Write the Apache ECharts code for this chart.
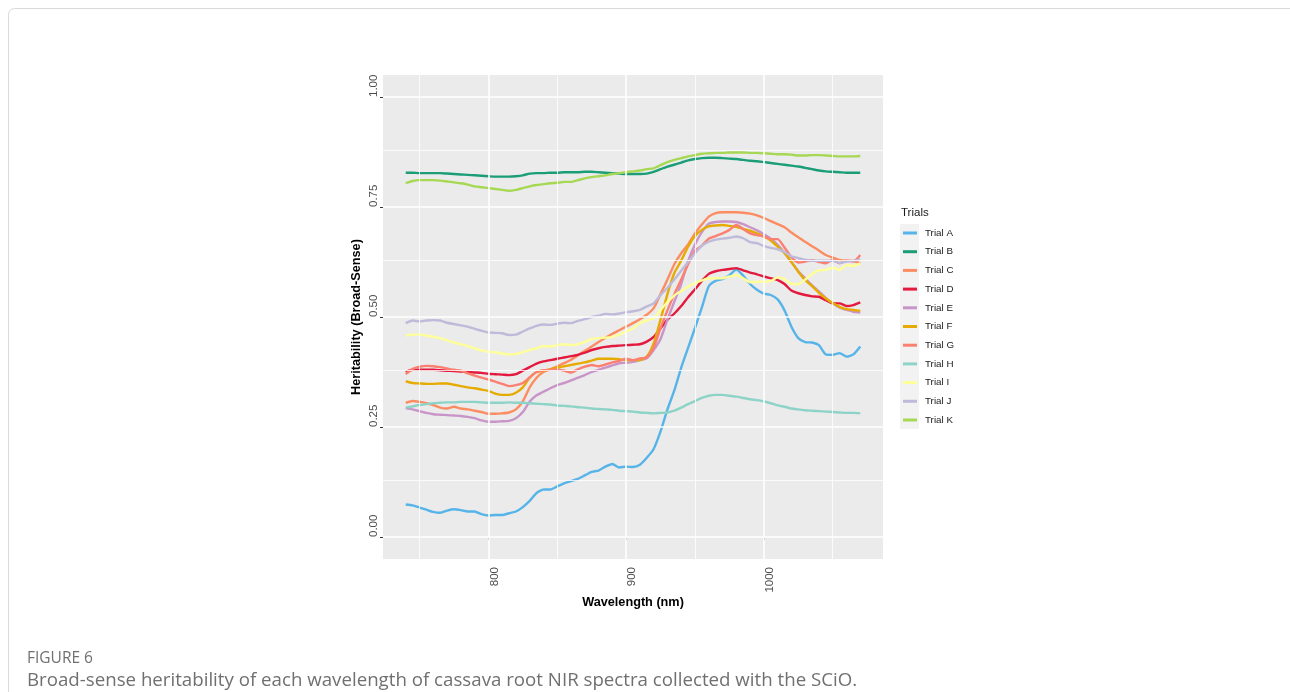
<!DOCTYPE html>
<html>
<head>
<meta charset="utf-8">
<script src="https://cdn.jsdelivr.net/npm/echarts@6/dist/echarts.min.js"></script>
<style>
  html, body { margin: 0; padding: 0; background: #ffffff; }
  #chart { width: 1290px; height: 692px; }
</style>
</head>
<body>
<div id="chart"></div>
<script>
// Wavelength grid (nm) shared by all trials
const wavelengths = [740, 745, 750, 755, 760, 765, 770, 775, 780, 785, 790, 795, 800, 805, 810, 815, 820, 825, 830, 835, 840, 845, 850, 855, 860, 865, 870, 875, 880, 885, 890, 895, 900, 905, 910, 915, 920, 925, 930, 935, 940, 945, 950, 955, 960, 965, 970, 975, 980, 985, 990, 995, 1000, 1005, 1010, 1015, 1020, 1025, 1030, 1035, 1040, 1045, 1050, 1055, 1060, 1065, 1070];

// Broad-sense heritability per wavelength, one array per trial
const trialA = [0.074, 0.072, 0.067, 0.062, 0.057, 0.055, 0.060, 0.063, 0.061, 0.058, 0.058, 0.052, 0.049, 0.050, 0.050, 0.054, 0.058, 0.068, 0.082, 0.100, 0.108, 0.108, 0.115, 0.122, 0.127, 0.132, 0.140, 0.148, 0.151, 0.160, 0.166, 0.158, 0.160, 0.159, 0.164, 0.180, 0.200, 0.240, 0.290, 0.333, 0.385, 0.430, 0.475, 0.522, 0.570, 0.582, 0.586, 0.595, 0.608, 0.594, 0.575, 0.562, 0.553, 0.550, 0.540, 0.515, 0.478, 0.452, 0.443, 0.442, 0.436, 0.415, 0.414, 0.418, 0.410, 0.415, 0.433];
const trialB = [0.828, 0.828, 0.827, 0.827, 0.827, 0.827, 0.826, 0.825, 0.824, 0.823, 0.822, 0.821, 0.820, 0.819, 0.819, 0.819, 0.820, 0.822, 0.826, 0.827, 0.827, 0.828, 0.828, 0.829, 0.829, 0.829, 0.830, 0.830, 0.829, 0.828, 0.827, 0.826, 0.825, 0.825, 0.825, 0.826, 0.830, 0.836, 0.842, 0.846, 0.851, 0.856, 0.859, 0.861, 0.862, 0.862, 0.861, 0.860, 0.859, 0.857, 0.855, 0.854, 0.852, 0.850, 0.848, 0.846, 0.844, 0.842, 0.839, 0.836, 0.833, 0.831, 0.830, 0.829, 0.828, 0.828, 0.828];
const trialC = [0.305, 0.309, 0.307, 0.304, 0.300, 0.294, 0.292, 0.296, 0.292, 0.290, 0.287, 0.284, 0.280, 0.280, 0.281, 0.283, 0.290, 0.308, 0.340, 0.362, 0.375, 0.381, 0.388, 0.395, 0.403, 0.413, 0.423, 0.433, 0.443, 0.453, 0.462, 0.470, 0.478, 0.486, 0.495, 0.505, 0.520, 0.552, 0.585, 0.620, 0.645, 0.665, 0.690, 0.710, 0.728, 0.736, 0.738, 0.738, 0.738, 0.737, 0.735, 0.731, 0.725, 0.718, 0.711, 0.704, 0.692, 0.681, 0.671, 0.661, 0.651, 0.641, 0.635, 0.630, 0.628, 0.627, 0.622];
const trialD = [0.375, 0.380, 0.380, 0.380, 0.380, 0.379, 0.378, 0.377, 0.376, 0.375, 0.374, 0.373, 0.371, 0.370, 0.369, 0.368, 0.370, 0.378, 0.386, 0.394, 0.399, 0.402, 0.405, 0.408, 0.411, 0.414, 0.419, 0.425, 0.429, 0.432, 0.434, 0.435, 0.436, 0.437, 0.438, 0.444, 0.455, 0.474, 0.494, 0.508, 0.525, 0.545, 0.563, 0.582, 0.598, 0.604, 0.607, 0.609, 0.611, 0.606, 0.601, 0.597, 0.592, 0.588, 0.584, 0.575, 0.560, 0.554, 0.550, 0.547, 0.546, 0.538, 0.531, 0.531, 0.525, 0.527, 0.533];
const trialE = [0.293, 0.290, 0.286, 0.282, 0.279, 0.278, 0.277, 0.276, 0.275, 0.273, 0.270, 0.265, 0.262, 0.262, 0.263, 0.264, 0.270, 0.284, 0.308, 0.322, 0.330, 0.338, 0.345, 0.350, 0.356, 0.362, 0.368, 0.375, 0.380, 0.385, 0.390, 0.395, 0.396, 0.398, 0.402, 0.406, 0.425, 0.450, 0.494, 0.535, 0.575, 0.627, 0.665, 0.693, 0.712, 0.716, 0.717, 0.717, 0.716, 0.711, 0.704, 0.697, 0.688, 0.678, 0.664, 0.646, 0.625, 0.604, 0.588, 0.572, 0.558, 0.543, 0.531, 0.521, 0.516, 0.512, 0.510];
const trialF = [0.354, 0.350, 0.349, 0.348, 0.348, 0.349, 0.349, 0.346, 0.343, 0.340, 0.338, 0.335, 0.332, 0.326, 0.323, 0.323, 0.328, 0.340, 0.362, 0.375, 0.378, 0.381, 0.385, 0.388, 0.391, 0.394, 0.397, 0.401, 0.405, 0.405, 0.405, 0.404, 0.402, 0.402, 0.402, 0.410, 0.440, 0.494, 0.552, 0.600, 0.628, 0.660, 0.684, 0.698, 0.706, 0.708, 0.709, 0.707, 0.705, 0.700, 0.696, 0.690, 0.683, 0.674, 0.660, 0.645, 0.625, 0.603, 0.584, 0.570, 0.555, 0.542, 0.532, 0.523, 0.518, 0.516, 0.514];
const trialG = [0.370, 0.382, 0.387, 0.389, 0.388, 0.386, 0.383, 0.380, 0.378, 0.372, 0.367, 0.362, 0.358, 0.353, 0.348, 0.343, 0.345, 0.350, 0.363, 0.375, 0.379, 0.380, 0.381, 0.378, 0.374, 0.381, 0.387, 0.391, 0.388, 0.392, 0.397, 0.400, 0.405, 0.402, 0.406, 0.408, 0.430, 0.475, 0.515, 0.552, 0.585, 0.620, 0.650, 0.662, 0.678, 0.684, 0.690, 0.698, 0.709, 0.700, 0.690, 0.686, 0.683, 0.677, 0.677, 0.658, 0.636, 0.624, 0.626, 0.629, 0.625, 0.622, 0.630, 0.622, 0.628, 0.626, 0.641];
const trialH = [0.294, 0.297, 0.300, 0.302, 0.304, 0.305, 0.306, 0.306, 0.307, 0.307, 0.307, 0.306, 0.305, 0.305, 0.305, 0.306, 0.305, 0.305, 0.304, 0.303, 0.302, 0.301, 0.299, 0.298, 0.297, 0.295, 0.294, 0.292, 0.291, 0.290, 0.289, 0.287, 0.286, 0.285, 0.283, 0.282, 0.281, 0.282, 0.283, 0.287, 0.294, 0.302, 0.309, 0.316, 0.321, 0.323, 0.323, 0.321, 0.319, 0.316, 0.313, 0.311, 0.308, 0.304, 0.299, 0.296, 0.292, 0.290, 0.288, 0.287, 0.286, 0.285, 0.284, 0.283, 0.282, 0.282, 0.281];
const trialI = [0.458, 0.460, 0.460, 0.458, 0.455, 0.452, 0.447, 0.442, 0.438, 0.434, 0.429, 0.424, 0.421, 0.420, 0.417, 0.415, 0.416, 0.420, 0.425, 0.429, 0.434, 0.433, 0.436, 0.438, 0.436, 0.438, 0.443, 0.450, 0.452, 0.453, 0.455, 0.460, 0.467, 0.474, 0.486, 0.492, 0.497, 0.516, 0.534, 0.549, 0.559, 0.569, 0.577, 0.583, 0.588, 0.588, 0.588, 0.592, 0.595, 0.588, 0.579, 0.580, 0.580, 0.582, 0.590, 0.586, 0.575, 0.575, 0.585, 0.598, 0.606, 0.607, 0.612, 0.607, 0.618, 0.616, 0.622];
const trialJ = [0.486, 0.492, 0.490, 0.492, 0.493, 0.492, 0.487, 0.484, 0.481, 0.478, 0.473, 0.469, 0.465, 0.464, 0.463, 0.459, 0.460, 0.467, 0.474, 0.480, 0.483, 0.482, 0.485, 0.487, 0.486, 0.491, 0.495, 0.500, 0.503, 0.507, 0.506, 0.508, 0.511, 0.513, 0.516, 0.524, 0.531, 0.550, 0.566, 0.585, 0.605, 0.625, 0.645, 0.662, 0.671, 0.676, 0.678, 0.680, 0.683, 0.679, 0.670, 0.668, 0.661, 0.657, 0.654, 0.648, 0.638, 0.634, 0.630, 0.628, 0.628, 0.628, 0.628, 0.623, 0.626, 0.628, 0.631];
const trialK = [0.804, 0.809, 0.811, 0.811, 0.811, 0.810, 0.808, 0.806, 0.804, 0.801, 0.797, 0.795, 0.793, 0.791, 0.789, 0.787, 0.789, 0.793, 0.797, 0.800, 0.802, 0.804, 0.805, 0.807, 0.807, 0.811, 0.815, 0.818, 0.820, 0.822, 0.825, 0.827, 0.829, 0.831, 0.833, 0.836, 0.838, 0.845, 0.852, 0.857, 0.861, 0.865, 0.868, 0.871, 0.872, 0.873, 0.873, 0.874, 0.874, 0.874, 0.873, 0.873, 0.872, 0.871, 0.870, 0.870, 0.869, 0.867, 0.867, 0.868, 0.868, 0.867, 0.866, 0.865, 0.865, 0.865, 0.866];

const trialNames = ['Trial A', 'Trial B', 'Trial C', 'Trial D', 'Trial E', 'Trial F', 'Trial G', 'Trial H', 'Trial I', 'Trial J', 'Trial K'];
const trialValues = [trialA, trialB, trialC, trialD, trialE, trialF, trialG, trialH, trialI, trialJ, trialK];
const trialColors = ['#56B4E9', '#1B9E77', '#FC8D62', '#E3193D', '#C994C7', '#E6AB02', '#FB8072', '#8DD3C7', '#FFFF99', '#BEBADA', '#A6D854'];

// Axis ticks and grid
const xTicks = [800, 900, 1000];
const xMinorGrid = [750, 850, 950, 1050];
const yTicks = [0, 0.25, 0.5, 0.75, 1];
const yMinorGrid = [0.125, 0.375, 0.625, 0.875];

const axisFont = 'Liberation Sans, Arial, sans-serif';

const chart = echarts.init(document.getElementById('chart'), null, { renderer: 'canvas' });

const gridLines = [];
xTicks.forEach(v => gridLines.push({ xAxis: v, lineStyle: { width: 1.6 } }));
xMinorGrid.forEach(v => gridLines.push({ xAxis: v, lineStyle: { width: 0.8 } }));
yTicks.forEach(v => gridLines.push({ yAxis: v, lineStyle: { width: 1.6 } }));
yMinorGrid.forEach(v => gridLines.push({ yAxis: v, lineStyle: { width: 0.8 } }));

const series = [{
  name: 'panel-grid',
  type: 'line',
  data: [],
  z: 1,
  silent: true,
  markLine: {
    silent: true,
    symbol: ['none', 'none'],
    label: { show: false },
    emphasis: { disabled: true },
    animation: false,
    lineStyle: { color: '#ffffff', type: 'solid' },
    data: gridLines
  }
}];

trialNames.forEach((name, k) => {
  series.push({
    name: name,
    type: 'line',
    z: 2,
    showSymbol: false,
    symbol: 'none',
    smooth: 0.2,
    color: trialColors[k],
    lineStyle: { width: 2.4, color: trialColors[k] },
    emphasis: { disabled: true },
    data: wavelengths.map((w, i) => [w, trialValues[k][i]])
  });
});

chart.setOption({
  animation: false,
  backgroundColor: '#ffffff',
  grid: {
    left: 383, right: 407, top: 75, bottom: 133,
    show: true, backgroundColor: '#EBEBEB', borderWidth: 0
  },
  xAxis: {
    type: 'value',
    min: 723.5, max: 1086.5,
    name: 'Wavelength (nm)',
    nameLocation: 'middle',
    nameGap: 37,
    nameMoveOverlap: false,
    nameTextStyle: { fontFamily: axisFont, fontWeight: 'bold', fontSize: 12.7, color: '#000000' },
    axisLine: { show: false },
    splitLine: { show: false },
    axisTick: { show: true, length: 3, customValues: xTicks, lineStyle: { color: '#333333', width: 1 } },
    axisLabel: {
      customValues: xTicks, rotate: 90, margin: 8, verticalAlign: 'top',
      fontFamily: axisFont, fontSize: 11.5, color: '#4D4D4D',
      formatter: v => String(v)
    }
  },
  yAxis: {
    type: 'value',
    min: -0.05, max: 1.05,
    name: 'Heritability (Broad-Sense)',
    nameLocation: 'middle',
    nameRotate: 90,
    nameGap: 20,
    nameMoveOverlap: false,
    nameTextStyle: { fontFamily: axisFont, fontWeight: 'bold', fontSize: 12.7, color: '#000000' },
    axisLine: { show: false },
    splitLine: { show: false },
    axisTick: { show: true, length: 3, customValues: yTicks, lineStyle: { color: '#333333', width: 1 } },
    axisLabel: {
      customValues: yTicks, rotate: 90, margin: 3.5, align: 'left', verticalAlign: 'bottom',
      fontFamily: axisFont, fontSize: 11.5, color: '#4D4D4D',
      formatter: v => v.toFixed(2)
    }
  },
  legend: {
    data: trialNames,
    orient: 'vertical',
    left: 903, top: 227,
    padding: 0,
    itemWidth: 14, itemHeight: 3,
    itemGap: 6.7,
    icon: 'rect',
    selectedMode: false,
    textStyle: { fontFamily: axisFont, fontSize: 9.8, color: '#1A1A1A', lineHeight: 12, padding: [0, 0, 0, 3] }
  },
  graphic: [
    { type: 'rect', z: 0, silent: true, shape: { x: 8.5, y: 8.5, width: 1400, height: 800, r: 6 }, style: { fill: 'none', stroke: '#D9D9D9', lineWidth: 1 } },
    { type: 'rect', z: 0, silent: true, shape: { x: 900, y: 224, width: 19, height: 205 }, style: { fill: '#F2F2F2' } },
    { type: 'text', z: 5, silent: true, style: { x: 901, y: 213, text: 'Trials', font: '11.5px ' + axisFont, fill: '#1A1A1A', textVerticalAlign: 'middle' } },
    { type: 'text', z: 5, silent: true, style: { x: 27, y: 659, text: 'FIGURE 6', font: '15.5px "Open Sans", sans-serif', fill: '#707070', textVerticalAlign: 'middle' } },
    { type: 'text', z: 5, silent: true, style: { x: 27, y: 681, text: 'Broad-sense heritability of each wavelength of cassava root NIR spectra collected with the SCiO.', font: '18.7px "Open Sans", sans-serif', fill: '#707070', textVerticalAlign: 'middle' } }
  ],
  series: series
});
</script>
</body>
</html>
